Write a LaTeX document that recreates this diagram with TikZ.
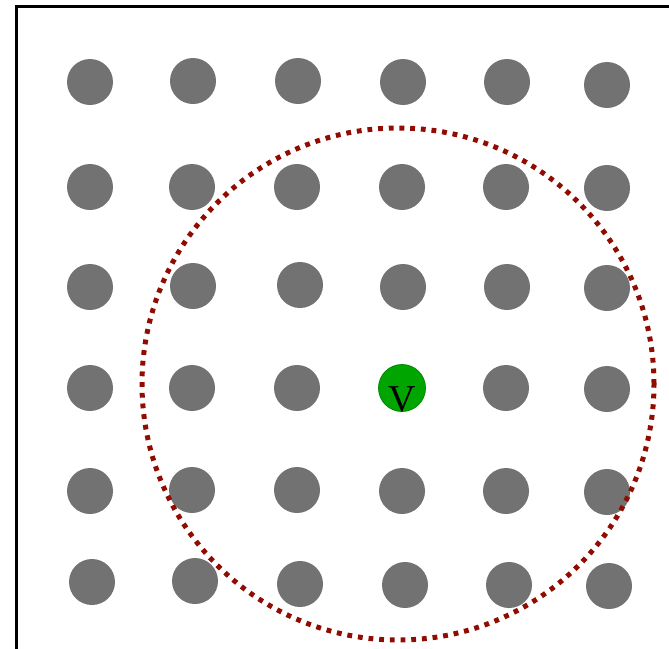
\documentclass[tikz,border=0pt]{standalone}
\usepackage{fontspec}
\setmainfont{Liberation Serif}
\usetikzlibrary{calc}

\definecolor{dotgray}{RGB}{114,114,114}
\definecolor{vgreen}{RGB}{0,165,0}
\definecolor{vedge}{RGB}{0,135,0}
\definecolor{rangered}{RGB}{145,12,0}

\begin{document}
\begin{tikzpicture}[x=1pt, y=-1pt,
  dot/.style={circle, fill=dotgray, minimum size=46pt, inner sep=0pt},
  vnode/.style={circle, fill=vgreen, draw=vedge, line width=0.8pt,
    minimum size=47pt, inner sep=0pt, font=\fontsize{38}{38}\selectfont},
  rangering/.style={rangered, line width=5pt, dash pattern=on 4.8pt off 5.9pt}]
  \useasboundingbox (0,0) rectangle (669,648);
  % --- Frame (cut off at right and bottom) ---
  \draw[line width=3pt] (16.3,660) -- (16.3,6.2) -- (680,6.2);
  % --- Grid of points (row/col) ---
  \foreach \x/\y/\n in {90/82/1-1, 193/81/1-2, 298/81/1-3, 403/82/1-4, 507/82/1-5, 607/85/1-6,
                        90/187/2-1, 192/187/2-2, 297/187/2-3, 402/187/2-4, 506/187/2-5, 607/188/2-6,
                        90/287/3-1, 193/286/3-2, 300/285/3-3, 403/287/3-4, 507/287/3-5, 607/288/3-6,
                        90/388/4-1, 192/388/4-2, 297/388/4-3, 506/388/4-5, 607/389/4-6,
                        90/491/5-1, 192/490/5-2, 297/490/5-3, 402/491/5-4, 506/491/5-5, 607/492/5-6,
                        92/582/6-1, 195/581/6-2, 300/584/6-3, 405/585/6-4, 509/585/6-5, 609/586/6-6} {
    \node[dot] (p\n) at (\x,\y) {};
  }
  % --- Query point ---
  \node[vnode] (v) at (402,388) {\raisebox{-10pt}[26pt][0pt]{V}};
  % --- Range around V ---
  \draw[rangering] (398,384) circle [radius=256pt];
\end{tikzpicture}
\end{document}
